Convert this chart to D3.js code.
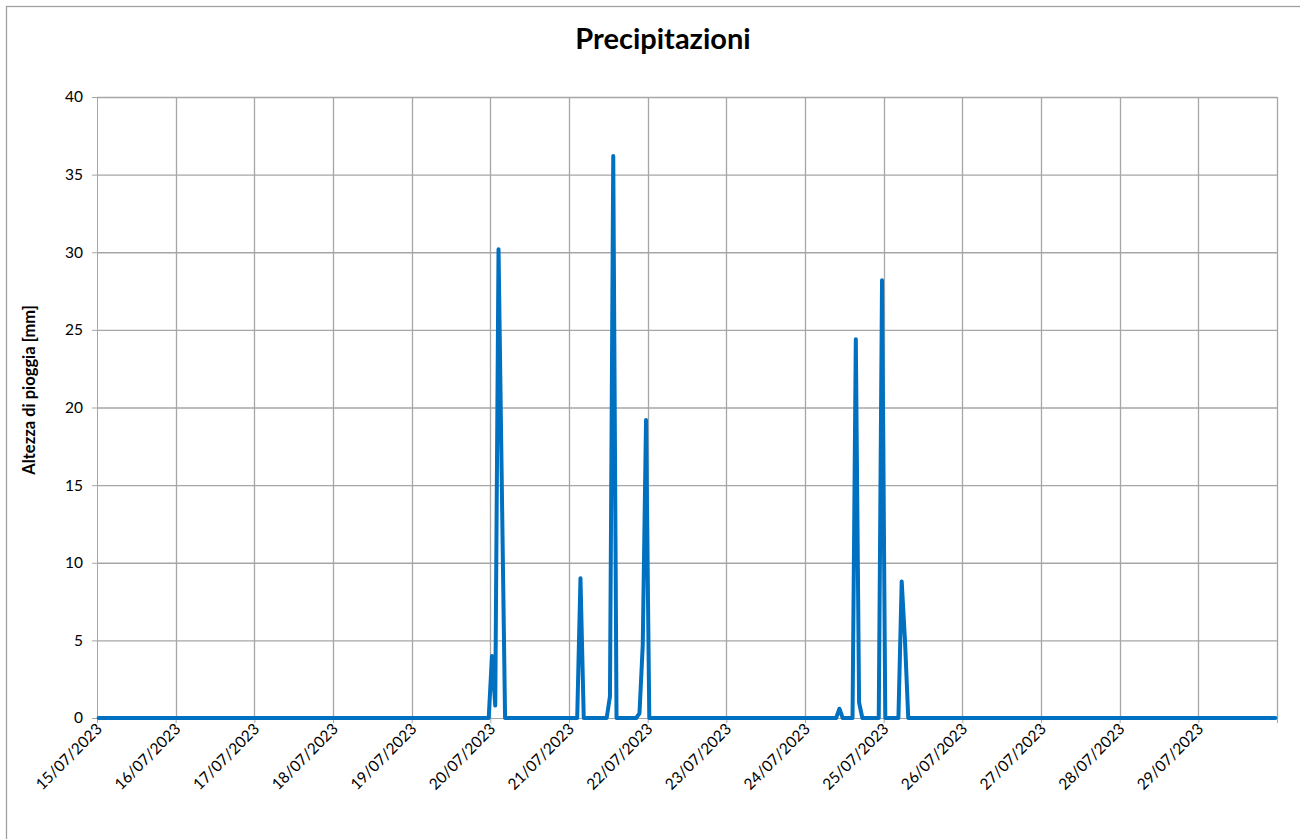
<!DOCTYPE html>
<html>
<head>
<meta charset="utf-8">
<script src="https://cdn.jsdelivr.net/npm/d3@7"></script>
<style>
  html, body { margin: 0; padding: 0; background: #fff; }
  svg { display: block; }
</style>
</head>
<body>
<svg id="chart" width="1300" height="839"></svg>
<script>
// Hour index (hourly categories from 15/07/2023 00:00) where the series changes, and rainfall [mm]
const hourIndex = [0, 119, 120, 121, 122, 123, 124,
                   146, 147, 148, 155, 156, 157, 158,
                   164, 165, 166, 167, 168,
                   225, 226, 227, 230, 231, 232, 233,
                   238, 239, 240, 244, 245, 246, 247, 359];
const rainfall  = [0, 0, 4.0, 0.8, 30.2, 15.0, 0,
                   0, 9.0, 0, 0, 1.4, 36.2, 0,
                   0, 0.3, 4.7, 19.2, 0,
                   0, 0.6, 0, 0, 24.4, 1.0, 0,
                   0, 28.2, 0, 0, 8.8, 5.0, 0, 0];
const dayLabels = ["15/07/2023","16/07/2023","17/07/2023","18/07/2023","19/07/2023",
                   "20/07/2023","21/07/2023","22/07/2023","23/07/2023","24/07/2023",
                   "25/07/2023","26/07/2023","27/07/2023","28/07/2023","29/07/2023"];
const yTicks = [0, 5, 10, 15, 20, 25, 30, 35, 40];
const titleText = "Precipitazioni";
const yTitleText = "Altezza di pioggia [mm]";

(function () {
const svg = d3.select("#chart");
const mLeft = 97, mRight = 1277, mTop = 97, mBottom = 718;
const start = new Date(2023, 6, 15, 0, 0);
const end = new Date(2023, 6, 30, 0, 0);
const HOUR = 3600 * 1000;

const x = d3.scaleTime().domain([start, end]).range([mLeft, mRight]);
const y = d3.scaleLinear().domain([0, 40]).range([mBottom, mTop]);

const gridColor = "#a6a6a6";
const font = "Lato, 'Open Sans', sans-serif";

// outer chart frame
svg.append("rect")
  .attr("x", 6.5).attr("y", 6.5)
  .attr("width", 1320).attr("height", 860)
  .attr("fill", "none").attr("stroke", "#a0a0a0").attr("stroke-width", 1.3);

// title
svg.append("text")
  .attr("x", 663).attr("y", 49)
  .attr("text-anchor", "middle")
  .attr("font-family", font).attr("font-weight", "bold").attr("font-size", 29)
  .attr("fill", "#000").text(titleText);

// y axis title
svg.append("text")
  .attr("transform", "translate(35,390) rotate(-90)")
  .attr("text-anchor", "middle")
  .attr("font-family", font).attr("font-weight", "bold").attr("font-size", 16.5)
  .attr("fill", "#000").text(yTitleText);

const dayDates = dayLabels.map((d, i) => new Date(start.getTime() + i * 24 * HOUR));
const allDays = dayDates.concat([end]);

// y axis
const yAxis = d3.axisLeft(y).tickValues(yTicks).tickSize(5).tickPadding(9).tickFormat(d3.format("d"));
const gy = svg.append("g").attr("transform", `translate(${mLeft},0)`).call(yAxis);
gy.select(".domain").attr("stroke", gridColor);
gy.selectAll(".tick line").attr("stroke", gridColor);
gy.selectAll(".tick text").attr("font-family", font).attr("font-size", 15.5).attr("fill", "#000");

// horizontal gridlines
svg.append("g").selectAll("line").data(yTicks.filter(d => d > 0)).join("line")
  .attr("x1", mLeft).attr("x2", mRight)
  .attr("y1", d => y(d) + 0.5).attr("y2", d => y(d) + 0.5)
  .attr("stroke", gridColor).attr("stroke-width", 1.3);

// vertical gridlines
svg.append("g").selectAll("line").data(allDays.slice(1)).join("line")
  .attr("x1", d => Math.round(x(d)) + 0.5).attr("x2", d => Math.round(x(d)) + 0.5)
  .attr("y1", mTop).attr("y2", mBottom)
  .attr("stroke", gridColor).attr("stroke-width", 1.3);

// x axis
const xAxis = d3.axisBottom(x).tickValues(allDays).tickSize(5).tickFormat(() => "");
const gx = svg.append("g").attr("transform", `translate(0,${mBottom})`).call(xAxis);
gx.select(".domain").attr("stroke", gridColor);
gx.selectAll(".tick line").attr("stroke", gridColor);

// x tick labels rotated
svg.append("g").selectAll("text").data(dayDates).join("text")
  .attr("transform", d => `translate(${x(d) + 6},${mBottom + 12}) rotate(-45)`)
  .attr("text-anchor", "end")
  .attr("font-family", font).attr("font-size", 15.5).attr("fill", "#000")
  .text((d, i) => dayLabels[i]);

// series line
const pts = hourIndex.map((h, i) => ({ t: new Date(start.getTime() + (h + 0.5) * HOUR), v: rainfall[i] }));
const line = d3.line().x(d => x(d.t)).y(d => y(d.v));
svg.append("path").datum(pts)
  .attr("d", line)
  .attr("fill", "none").attr("stroke", "#0070C0").attr("stroke-width", 4)
  .attr("stroke-linejoin", "round").attr("stroke-linecap", "round");
})();
</script>
</body>
</html>
